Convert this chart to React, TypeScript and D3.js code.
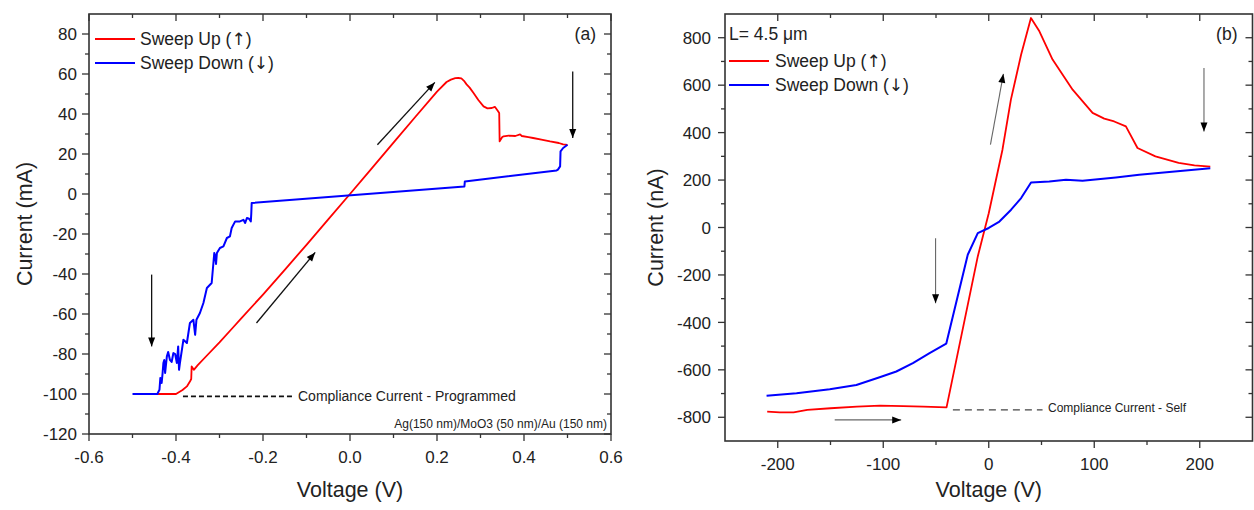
import React from 'react';
import * as d3 from 'd3';

type P = [number, number];

// ---------- Panel (a) data: Voltage (V) vs Current (mA) ----------
const sweepUpA: P[] = [
  [-0.45, -100], [-0.40, -100], [-0.385, -98], [-0.375, -96.2], [-0.368, -93.8], [-0.365, -92.5],
  [-0.364, -86.2], [-0.359, -87.9], [-0.35, -85.6], [-0.33, -81], [-0.30, -74.2], [-0.27, -67],
  [-0.25, -62.2], [-0.20, -50.3], [-0.15, -37.9], [-0.10, -25.4], [-0.05, -12.7], [0, 0],
  [0.05, 12.8], [0.10, 25.7], [0.15, 38.5], [0.20, 51.2], [0.222, 56.0], [0.232, 57.2],
  [0.242, 57.9], [0.249, 58], [0.256, 57.8], [0.262, 56.6], [0.268, 54.8], [0.275, 53.2],
  [0.284, 50.5], [0.295, 47], [0.307, 43.8], [0.316, 42.8], [0.326, 43], [0.333, 43.6],
  [0.340, 41.5], [0.343, 40.5], [0.344, 26.3], [0.350, 28.5], [0.353, 28.8], [0.365, 29.2],
  [0.38, 29], [0.391, 29.8], [0.395, 29], [0.41, 28.4], [0.421, 28], [0.44, 27.2], [0.46, 26.3],
  [0.48, 25.5], [0.49, 24.8], [0.50, 24.6],
];
const sweepDownA: P[] = [
  [0.50, 24.6], [0.490, 23], [0.484, 21.3], [0.483, 13.8], [0.478, 12.2], [0.475, 11.8],
  [0.264, 6.3], [0.263, 3.8], [-0.226, -4.5], [-0.227, -10], [-0.228, -13.7], [-0.232, -12.4],
  [-0.237, -12], [-0.241, -14.5], [-0.245, -12.9], [-0.253, -13.7], [-0.264, -13.7], [-0.272, -17],
  [-0.276, -21.2], [-0.283, -22], [-0.291, -26.2], [-0.299, -27], [-0.306, -29.5], [-0.308, -35],
  [-0.310, -31], [-0.312, -29.5], [-0.314, -34.5], [-0.318, -44.5], [-0.329, -47], [-0.337, -54.5],
  [-0.345, -59.5], [-0.353, -62.9], [-0.356, -70.4], [-0.360, -62.9], [-0.368, -64.5],
  [-0.375, -74.5], [-0.383, -72.9], [-0.391, -84.5], [-0.393, -87.9], [-0.395, -76.2],
  [-0.398, -84.5], [-0.402, -80], [-0.406, -79.5], [-0.410, -84], [-0.414, -82.9], [-0.418, -79],
  [-0.421, -81.2], [-0.425, -89.5], [-0.427, -83], [-0.429, -84.5], [-0.431, -90], [-0.433, -94.5],
  [-0.436, -92], [-0.438, -97.9], [-0.443, -100], [-0.50, -100],
];
const xMajorA = [-0.6, -0.4, -0.2, 0, 0.2, 0.4, 0.6];
const xMinorA = [-0.5, -0.3, -0.1, 0.1, 0.3, 0.5];
const yMajorA = [-120, -100, -80, -60, -40, -20, 0, 20, 40, 60, 80];
const yMinorA = [-110, -90, -70, -50, -30, -10, 10, 30, 50, 70];
const arrowsA = [
  [-0.456, -40.3, -0.456, -76.2],
  [-0.215, -64.5, -0.080, -29.2],
  [0.063, 24.6, 0.195, 55.8],
  [0.512, 61.3, 0.512, 28],
];
const complianceA = [[-0.384, -101.2], [-0.131, -101.2]];

// ---------- Panel (b) data: Voltage (V) vs Current (nA) ----------
const sweepUpB: P[] = [
  [-210, -776], [-198, -779], [-185, -779], [-172, -769], [-150, -762], [-125, -755], [-103, -751],
  [-81, -753], [-62, -755], [-40, -758], [-10.4, -122], [0, 60], [13, 328], [21, 539], [30.7, 729],
  [40, 883], [48, 827], [60.5, 708], [79.5, 581], [98.4, 483], [109.5, 459], [118.9, 447],
  [130, 426], [141, 335], [158, 300], [180, 272], [195, 262], [210, 257],
];
const sweepDownB: P[] = [
  [210, 250], [142.6, 222], [120.5, 211], [88.9, 197], [73.2, 201], [57.4, 194], [40.1, 190],
  [30.7, 124], [21.2, 75], [10.1, 25], [0, -2], [-10.4, -24], [-19.9, -115], [-40.3, -490],
  [-56.1, -530], [-71.9, -572], [-87.6, -607], [-103.4, -631], [-125.5, -664], [-150.7, -682],
  [-182.2, -699], [-210.6, -709],
];
const xMajorB = [-200, -100, 0, 100, 200];
const xMinorB = [-150, -50, 50, 150];
const yMajorB = [-800, -600, -400, -200, 0, 200, 400, 600, 800];
const yMinorB = [-700, -500, -300, -100, 100, 300, 500, 700];
const arrowsB = [
  [1.6, 349, 13.9, 648],
  [204, 672, 204, 405],
  [-50.4, -45, -50.4, -319],
  [-146, -811, -83, -811],
];
const complianceB = [[-34, -769], [51, -769]];

const FONT = '"Liberation Sans", Arial, Helvetica, sans-serif';
const ARROWFONT = '"DejaVu Sans", "Noto Sans", sans-serif';
const AX = '#333';

type Cfg = {
  left: number; right: number; top: number; bottom: number;
  xDomain: [number, number]; yDomain: [number, number];
  xMajor: number[]; xMinor: number[]; yMajor: number[]; yMinor: number[];
  xFmt: (v: number) => string; yFmt: (v: number) => string;
  up: P[]; down: P[]; arrows: number[][]; compliance: number[][];
  yLabel: string; tag: string; yLabelX: number; yTickGap: number; xTickBase: number;
  arrowLine: string; arrowW: number; dash: string; dashColor: string; dashW: number;
};

function arrowHead(x1: number, y1: number, x2: number, y2: number, len: number, half: number) {
  const dx = x2 - x1, dy = y2 - y1;
  const L = Math.hypot(dx, dy);
  const ux = dx / L, uy = dy / L;
  const bx = x2 - ux * len, by = y2 - uy * len;
  return `${x2},${y2} ${bx - uy * half},${by + ux * half} ${bx + uy * half},${by - ux * half}`;
}

function Panel({ c }: { c: Cfg }) {
  const x = d3.scaleLinear().domain(c.xDomain).range([c.left, c.right]);
  const y = d3.scaleLinear().domain(c.yDomain).range([c.bottom, c.top]);
  const line = d3.line<P>().x(d => x(d[0])).y(d => y(d[1]));
  const MJ = 7, MN = 4;
  return (
    <g>
      <path d={line(c.up) || ''} fill="none" stroke="#ff0000" strokeWidth={1.8} strokeLinejoin="round" />
      <path d={line(c.down) || ''} fill="none" stroke="#0000ff" strokeWidth={2} strokeLinejoin="round" />
      <line x1={x(c.compliance[0][0])} y1={y(c.compliance[0][1])} x2={x(c.compliance[1][0])} y2={y(c.compliance[1][1])}
        stroke={c.dashColor} strokeWidth={c.dashW} strokeDasharray={c.dash} />
      {c.arrows.map((a, i) => {
        const x1 = x(a[0]), y1 = y(a[1]), x2 = x(a[2]), y2 = y(a[3]);
        return (
          <g key={i}>
            <line x1={x1} y1={y1} x2={x2} y2={y2} stroke={c.arrowLine} strokeWidth={c.arrowW} />
            <polygon points={arrowHead(x1, y1, x2, y2, 9, 3.5)} fill="#000" />
          </g>
        );
      })}
      <rect x={c.left} y={c.top} width={c.right - c.left} height={c.bottom - c.top} fill="none" stroke={AX} strokeWidth={1.6} />
      {c.xMajor.map(t => (
        <g key={'xM' + t}>
          <line x1={x(t)} x2={x(t)} y1={c.bottom} y2={c.bottom + MJ} stroke={AX} strokeWidth={1.3} />
          <line x1={x(t)} x2={x(t)} y1={c.top} y2={c.top + MJ} stroke={AX} strokeWidth={1.3} />
          <text x={x(t)} y={c.xTickBase} textAnchor="middle" fontSize={17} fill="#222">{c.xFmt(t)}</text>
        </g>
      ))}
      {c.xMinor.map(t => (
        <g key={'xm' + t}>
          <line x1={x(t)} x2={x(t)} y1={c.bottom} y2={c.bottom + MN} stroke={AX} strokeWidth={1.3} />
          <line x1={x(t)} x2={x(t)} y1={c.top} y2={c.top + MN} stroke={AX} strokeWidth={1.3} />
        </g>
      ))}
      {c.yMajor.map(t => (
        <g key={'yM' + t}>
          <line x1={c.left - MJ} x2={c.left} y1={y(t)} y2={y(t)} stroke={AX} strokeWidth={1.3} />
          <line x1={c.right - MJ} x2={c.right} y1={y(t)} y2={y(t)} stroke={AX} strokeWidth={1.3} />
          <text x={c.left - c.yTickGap} y={y(t)} dy="0.36em" textAnchor="end" fontSize={17} fill="#222">{c.yFmt(t)}</text>
        </g>
      ))}
      {c.yMinor.map(t => (
        <g key={'ym' + t}>
          <line x1={c.left - MN} x2={c.left} y1={y(t)} y2={y(t)} stroke={AX} strokeWidth={1.3} />
          <line x1={c.right - MN} x2={c.right} y1={y(t)} y2={y(t)} stroke={AX} strokeWidth={1.3} />
        </g>
      ))}
      <text x={(c.left + c.right) / 2} y={497} textAnchor="middle" fontSize={21.5} fill="#222">Voltage (V)</text>
      <text transform={`translate(${c.yLabelX},${(c.top + c.bottom) / 2}) rotate(-90)`} textAnchor="middle" fontSize={21.5} fill="#222">{c.yLabel}</text>
      <text x={c.right - 15} y={40} textAnchor="end" fontSize={17.5} fill="#222">{c.tag}</text>
    </g>
  );
}

function LegendText({ x, y, label, arrow }: { x: number; y: number; label: string; arrow: string }) {
  return (
    <text x={x} y={y} fontSize={17.5} fill="#222">
      {label} (<tspan fontFamily={ARROWFONT} fontSize={17} fill="#222">{arrow + '\uFE0E'}</tspan>)
    </text>
  );
}

export default function App() {
  const cA: Cfg = {
    left: 89, right: 611, top: 14, bottom: 434,
    xDomain: [-0.6, 0.6], yDomain: [-120, 90],
    xMajor: xMajorA, xMinor: xMinorA, yMajor: yMajorA, yMinor: yMinorA,
    xFmt: v => v.toFixed(1), yFmt: v => String(v),
    up: sweepUpA, down: sweepDownA, arrows: arrowsA, compliance: complianceA,
    yLabel: 'Current (mA)', tag: '(a)', yLabelX: 32, yTickGap: 12, xTickBase: 463,
    arrowLine: '#111', arrowW: 1.3, dash: '5,3', dashColor: '#111', dashW: 1.8,
  };
  const cB: Cfg = {
    left: 725, right: 1252.5, top: 14, bottom: 441,
    xDomain: [-250, 250], yDomain: [-900, 900],
    xMajor: xMajorB, xMinor: xMinorB, yMajor: yMajorB, yMinor: yMinorB,
    xFmt: v => String(v), yFmt: v => String(v),
    up: sweepUpB, down: sweepDownB, arrows: arrowsB, compliance: complianceB,
    yLabel: 'Current (nA)', tag: '(b)', yLabelX: 663, yTickGap: 14, xTickBase: 470,
    arrowLine: '#666', arrowW: 1.1, dash: '7,5', dashColor: '#444', dashW: 1.4,
  };
  return (
    <svg width={1254} height={510} style={{ position: 'absolute', left: 0, top: 0, background: '#fff' }}
      fontFamily={FONT}>
      <Panel c={cA} />
      <Panel c={cB} />
      <line x1={95} x2={135} y1={39} y2={39} stroke="#ff0000" strokeWidth={1.8} />
      <LegendText x={140} y={45} label="Sweep Up" arrow="↑" />
      <line x1={95} x2={135} y1={63} y2={63} stroke="#0000ff" strokeWidth={1.8} />
      <LegendText x={140} y={69} label="Sweep Down" arrow="↓" />
      <text x={298} y={401} fontSize={14} fill="#222">Compliance Current - Programmed</text>
      <text x={607} y={428} textAnchor="end" fontSize={12} fill="#222">Ag(150 nm)/MoO3 (50 nm)/Au (150 nm)</text>
      <text x={729} y={40} fontSize={17.5} fill="#222">L= 4.5 μm</text>
      <line x1={729} x2={769} y1={61} y2={61} stroke="#ff0000" strokeWidth={1.8} />
      <LegendText x={775} y={67} label="Sweep Up" arrow="↑" />
      <line x1={729} x2={769} y1={85} y2={85} stroke="#0000ff" strokeWidth={1.8} />
      <LegendText x={775} y={91} label="Sweep Down" arrow="↓" />
      <text x={1048} y={412} fontSize={12} fill="#222">Compliance Current - Self</text>
    </svg>
  );
}
